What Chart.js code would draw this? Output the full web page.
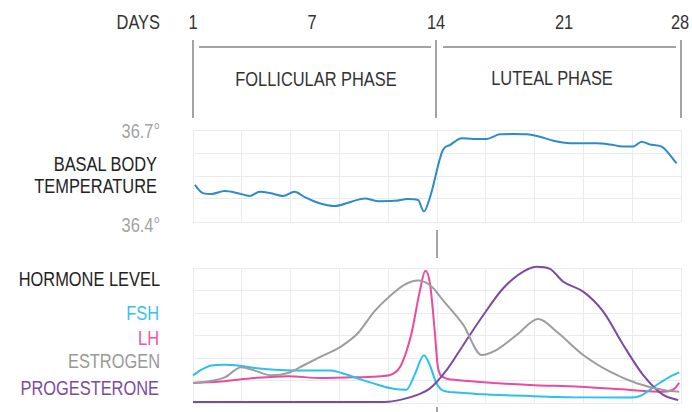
<!DOCTYPE html>
<html>
<head>
<meta charset="utf-8">
<script src="https://cdn.jsdelivr.net/npm/chart.js@4/dist/chart.umd.min.js"></script>
<style>
  html, body { margin:0; padding:0; background:#fff; }
  #stage { position:relative; width:692px; height:412px; overflow:hidden;
    font-family:"Liberation Sans",Arial,sans-serif;
    font-size:20px; color:#333; }
  /* no narrow face installed: squeeze the regular one instead */
  .t { position:absolute; white-space:nowrap; line-height:24px; height:24px; transform:scaleX(0.82); }
  .r { text-align:right; transform-origin:right center; }
  .c { text-align:center; transform-origin:center center; }
  .ln { position:absolute; background:#a3a3a3; }
  canvas { position:absolute; }
</style>
</head>
<body>
<div id="stage">
  <!-- header -->
  <div class="t r" style="left:0px;width:160px;top:10px;">DAYS</div>
  <div class="t c" style="left:173px;width:40px;top:10px;">1</div>
  <div class="t c" style="left:292px;width:40px;top:10px;">7</div>
  <div class="t c" style="left:416px;width:40px;top:10px;">14</div>
  <div class="t c" style="left:544px;width:40px;top:10px;">21</div>
  <div class="t c" style="left:660px;width:40px;top:10px;">28</div>
  <div class="ln" style="left:192px;top:40px;width:2px;height:78px;"></div>
  <div class="ln" style="left:435px;top:40px;width:2px;height:78px;"></div>
  <div class="ln" style="left:680px;top:40px;width:2px;height:78px;"></div>
  <div class="ln" style="left:199px;top:46px;width:232px;height:2px;"></div>
  <div class="ln" style="left:443px;top:46px;width:233px;height:2px;"></div>
  <div class="t c" style="left:196px;width:240px;top:67px;">FOLLICULAR PHASE</div>
  <div class="t c" style="left:432px;width:240px;top:66px;">LUTEAL PHASE</div>

  <!-- temperature labels -->
  <div class="t r" style="left:0px;width:160px;top:119px;color:#a3a3a3;">36.7°</div>
  <div class="t r" style="left:-43px;width:200px;top:152px;color:#222;">BASAL BODY</div>
  <div class="t r" style="left:-43px;width:200px;top:174px;color:#222;">TEMPERATURE</div>
  <div class="t r" style="left:0px;width:160px;top:213px;color:#a3a3a3;">36.4°</div>

  <div class="ln" style="left:436px;top:230px;width:2px;height:28px;"></div>
  <div class="ln" style="left:436px;top:407px;width:2px;height:5px;"></div>

  <!-- hormone labels -->
  <div class="t r" style="left:-40px;width:200px;top:267px;color:#222;">HORMONE LEVEL</div>
  <div class="t r" style="left:-41px;width:200px;top:301px;color:#35c3ef;">FSH</div>
  <div class="t r" style="left:-41px;width:200px;top:326px;color:#ee56a6;">LH</div>
  <div class="t r" style="left:-40px;width:200px;top:349px;color:#999;">ESTROGEN</div>
  <div class="t r" style="left:-41px;width:200px;top:376px;color:#7b4ba3;">PROGESTERONE</div>

  <canvas id="tempChart" width="504" height="108" style="left:185px;top:122px;width:504px;height:108px;"></canvas>
  <canvas id="hormoneChart" width="504" height="151" style="left:185px;top:260px;width:504px;height:151px;"></canvas>
</div>

<script>
// x positions are in day units on a 0..28 scale (grid every 2.8)
const tempDays = [0.1,0.57,1.05,1.82,2.58,3.25,3.83,4.49,5.16,5.83,6.41,7.17,8.13,9.08,9.85,10.61,11.57,12.33,12.91,13.25,13.58,14.34,14.74,15.42,16.08,16.85,17.61,18.38,19.15,19.91,20.67,21.63,23.16,23.92,24.69,25.26,25.74,26.22,26.89,27.75];
const tempC = [36.521,36.494,36.491,36.501,36.494,36.485,36.499,36.494,36.485,36.499,36.481,36.463,36.452,36.466,36.477,36.468,36.469,36.475,36.472,36.434,36.477,36.635,36.651,36.673,36.671,36.671,36.686,36.687,36.686,36.678,36.665,36.657,36.657,36.653,36.646,36.646,36.662,36.653,36.646,36.591];

const fshDays = [0,0.48,1.05,1.82,2.58,3.54,4.69,5.83,6.98,7.93,8.70,9.66,10.61,11.57,12.24,12.72,13.25,13.58,13.96,14.36,15.13,16.66,19.33,22.20,25.07,25.65,26.60,27.37,27.90];
const fshLevel = [1.23,1.48,1.67,1.70,1.67,1.56,1.48,1.45,1.45,1.44,1.29,1.04,0.81,0.62,0.59,1.26,2.12,1.70,0.89,0.55,0.47,0.39,0.31,0.25,0.24,0.31,0.80,1.17,1.36];

const lhDays = [0,1.62,3.54,5.45,7.36,9.28,10.80,11.47,11.95,12.52,13.01,13.33,13.60,13.87,14.05,14.36,15.13,16.66,19.33,22.20,25.07,26.98,27.65,27.90];
const lhLevel = [0.89,0.96,1.11,1.19,1.11,1.14,1.19,1.29,1.70,3.04,4.96,5.88,5.30,3.20,1.60,1.15,1.02,0.92,0.80,0.72,0.58,0.50,0.65,0.90];

const estDays = [0,0.86,1.82,2.77,3.54,4.49,5.45,6.41,7.36,8.51,9.47,10.42,11.38,12.15,12.91,13.67,14.36,15.51,16.56,17.42,18.57,19.81,20.87,22.39,23.92,25.46,26.98,27.90];
const estLevel = [0.89,0.96,1.14,1.59,1.44,1.23,1.33,1.70,2.07,2.52,3.11,4.08,4.81,5.26,5.44,5.19,4.55,3.47,2.13,2.36,3.02,3.73,3.17,2.13,1.39,0.88,0.58,0.50];

const progDays = [0,11.0,11.95,12.91,13.60,14.56,15.51,16.66,17.80,18.95,19.72,20.48,21.25,22.39,23.54,24.69,25.83,26.98,27.84];
const progLevel = [0.05,0.05,0.15,0.37,0.65,1.47,2.58,3.91,5.10,5.84,6.06,5.96,5.39,4.95,4.06,2.58,1.24,0.36,0.13];

const gridX = Array.from({ length: 11 }, (_, i) => i * 2.8);
const tempGridY = [36.4, 36.475, 36.55, 36.625, 36.7];
const hormoneGridY = [0, 1, 2, 3, 4, 5, 6];

const GRID = '#e8eced';

function pts(xs, ys) { return xs.map((x, i) => ({ x, y: ys[i] })); }

function line(data, color) {
  return { data, borderColor: color, borderWidth: 2, pointRadius: 0,
    cubicInterpolationMode: 'monotone', fill: false, clip: false };
}

function panel(id, datasets, yMin, yMax, yGrid) {
  return new Chart(document.getElementById(id), {
    type: 'line',
    data: { datasets },
    options: {
      responsive: false, animation: false, devicePixelRatio: 1,
      layout: { padding: 8 },
      plugins: { legend: { display: false }, tooltip: { enabled: false } },
      scales: {
        x: { type: 'linear', min: 0, max: 28,
          afterBuildTicks: s => { s.ticks = gridX.map(v => ({ value: v })); },
          ticks: { display: false }, grid: { color: GRID, drawTicks: false }, border: { display: false } },
        y: { type: 'linear', min: yMin, max: yMax,
          afterBuildTicks: s => { s.ticks = yGrid.map(v => ({ value: v })); },
          ticks: { display: false }, grid: { color: GRID, drawTicks: false }, border: { display: false } }
      }
    }
  });
}

panel('tempChart', [line(pts(tempDays, tempC), '#2e8bcb')], 36.4, 36.7, tempGridY);

panel('hormoneChart', [
  line(pts(estDays, estLevel), '#9d9d9d'),
  line(pts(progDays, progLevel), '#7b4ba3'),
  line(pts(fshDays, fshLevel), '#2cc0ec'),
  line(pts(lhDays, lhLevel), '#ec4a9d')
], 0, 6, hormoneGridY);
</script>
</body>
</html>
